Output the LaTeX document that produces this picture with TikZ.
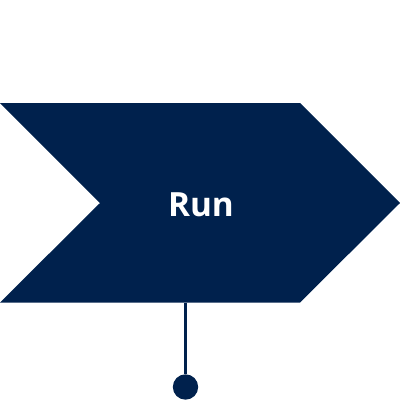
\documentclass[tikz,border=0pt]{standalone}
\usepackage{fontspec}
\setmainfont{Open Sans}
\definecolor{navy}{RGB}{0,33,77}
\tikzset{every picture/.style={line width=0.75pt}}
\begin{document}
\begin{tikzpicture}[x=0.75pt,y=0.75pt,yscale=-1,xscale=1]
\useasboundingbox (0,0) rectangle (400,400); %set diagram size 400 x 400

%Shape: Chevron [id:chevron]
\draw  [draw=none][fill=navy ] (0,103) -- (300,103) -- (400,203) -- (300,302.5) -- (0,302.5) -- (100,203) -- cycle ;
\coordinate (stem) at (185.5,302.5) ;
%Shape: Circle [id:dot]
\node (dot) at (185.5,387) [circle,fill=navy,inner sep=0pt,minimum size=19pt] {};
%Straight Lines [id:stemline]
\draw [color=navy ,line width=2.2pt]   (stem) -- (dot) ;

% Text Node
\node (run) at (201,204.5) [inner sep=0.75pt,text=white] {\fontsize{25}{30}\selectfont\bfseries Run};

\end{tikzpicture}
\end{document}
